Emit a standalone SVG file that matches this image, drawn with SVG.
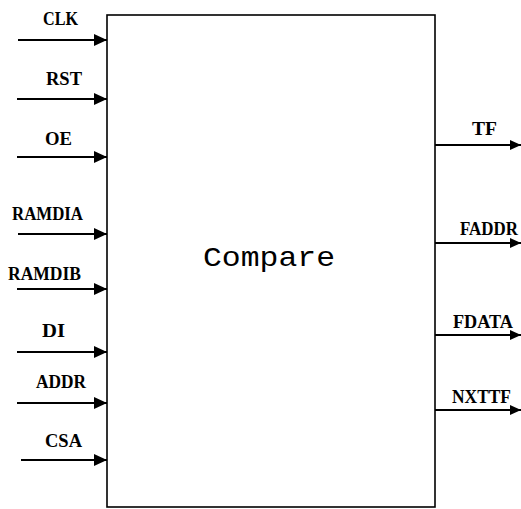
<svg xmlns="http://www.w3.org/2000/svg" width="521" height="509" viewBox="0 0 521 509">
<style>
.lbl{font-family:"Liberation Serif","Times New Roman",serif;font-size:18px;font-weight:bold;fill:#000}
.title{font-family:"Liberation Mono","Courier New",monospace;font-size:28px;fill:#000}
.wire{stroke:#000;stroke-width:2.2;fill:none}
.box{stroke:#000;stroke-width:1.6;fill:#fff}
</style>
<defs>
<marker id="ah" markerUnits="userSpaceOnUse" markerWidth="13" markerHeight="12" refX="13" refY="6" orient="auto">
<path d="M0,0 L13,6 L0,12 z" fill="#000"/>
</marker>
<marker id="ahr" markerUnits="userSpaceOnUse" markerWidth="11" markerHeight="10" refX="11" refY="5" orient="auto">
<path d="M0,0 L11,5 L0,10 z" fill="#000"/>
</marker>
</defs>
<g id="compare">
<rect class="box" x="107" y="15" width="328" height="492"/>
<text class="title" x="203" y="266" textLength="132" lengthAdjust="spacingAndGlyphs">Compare</text>
</g>
<g id="connectors">
<line class="wire" x1="18" y1="40" x2="107" y2="40" marker-end="url(#ah)"/>
<line class="wire" x1="17" y1="99" x2="107" y2="99" marker-end="url(#ah)"/>
<line class="wire" x1="17" y1="157" x2="107" y2="157" marker-end="url(#ah)"/>
<line class="wire" x1="18" y1="234" x2="107" y2="234" marker-end="url(#ah)"/>
<line class="wire" x1="17" y1="289" x2="107" y2="289" marker-end="url(#ah)"/>
<line class="wire" x1="17" y1="352" x2="107" y2="352" marker-end="url(#ah)"/>
<line class="wire" x1="17" y1="403" x2="107" y2="403" marker-end="url(#ah)"/>
<line class="wire" x1="21" y1="460" x2="107" y2="460" marker-end="url(#ah)"/>
<line class="wire" x1="435" y1="145" x2="521" y2="145" marker-end="url(#ahr)"/>
<line class="wire" x1="435" y1="243" x2="521" y2="243" marker-end="url(#ahr)"/>
<line class="wire" x1="435" y1="335" x2="521" y2="335" marker-end="url(#ahr)"/>
<line class="wire" x1="435" y1="410" x2="521" y2="410" marker-end="url(#ahr)"/>
</g>
<g id="labels">
<text class="lbl" x="43" y="25" textLength="35" lengthAdjust="spacingAndGlyphs">CLK</text>
<text class="lbl" x="46" y="85" textLength="36" lengthAdjust="spacingAndGlyphs">RST</text>
<text class="lbl" x="45" y="145" textLength="27" lengthAdjust="spacingAndGlyphs">OE</text>
<text class="lbl" x="12" y="220" textLength="71" lengthAdjust="spacingAndGlyphs">RAMDIA</text>
<text class="lbl" x="8" y="280" textLength="73" lengthAdjust="spacingAndGlyphs">RAMDIB</text>
<text class="lbl" x="42" y="337" textLength="23" lengthAdjust="spacingAndGlyphs">DI</text>
<text class="lbl" x="36" y="388" textLength="50" lengthAdjust="spacingAndGlyphs">ADDR</text>
<text class="lbl" x="45" y="447" textLength="37" lengthAdjust="spacingAndGlyphs">CSA</text>
<text class="lbl" x="472" y="135" textLength="25" lengthAdjust="spacingAndGlyphs">TF</text>
<text class="lbl" x="460" y="235" textLength="58" lengthAdjust="spacingAndGlyphs">FADDR</text>
<text class="lbl" x="453" y="328" textLength="60" lengthAdjust="spacingAndGlyphs">FDATA</text>
<text class="lbl" x="452" y="403" textLength="59" lengthAdjust="spacingAndGlyphs">NXTTF</text>
</g>
</svg>
